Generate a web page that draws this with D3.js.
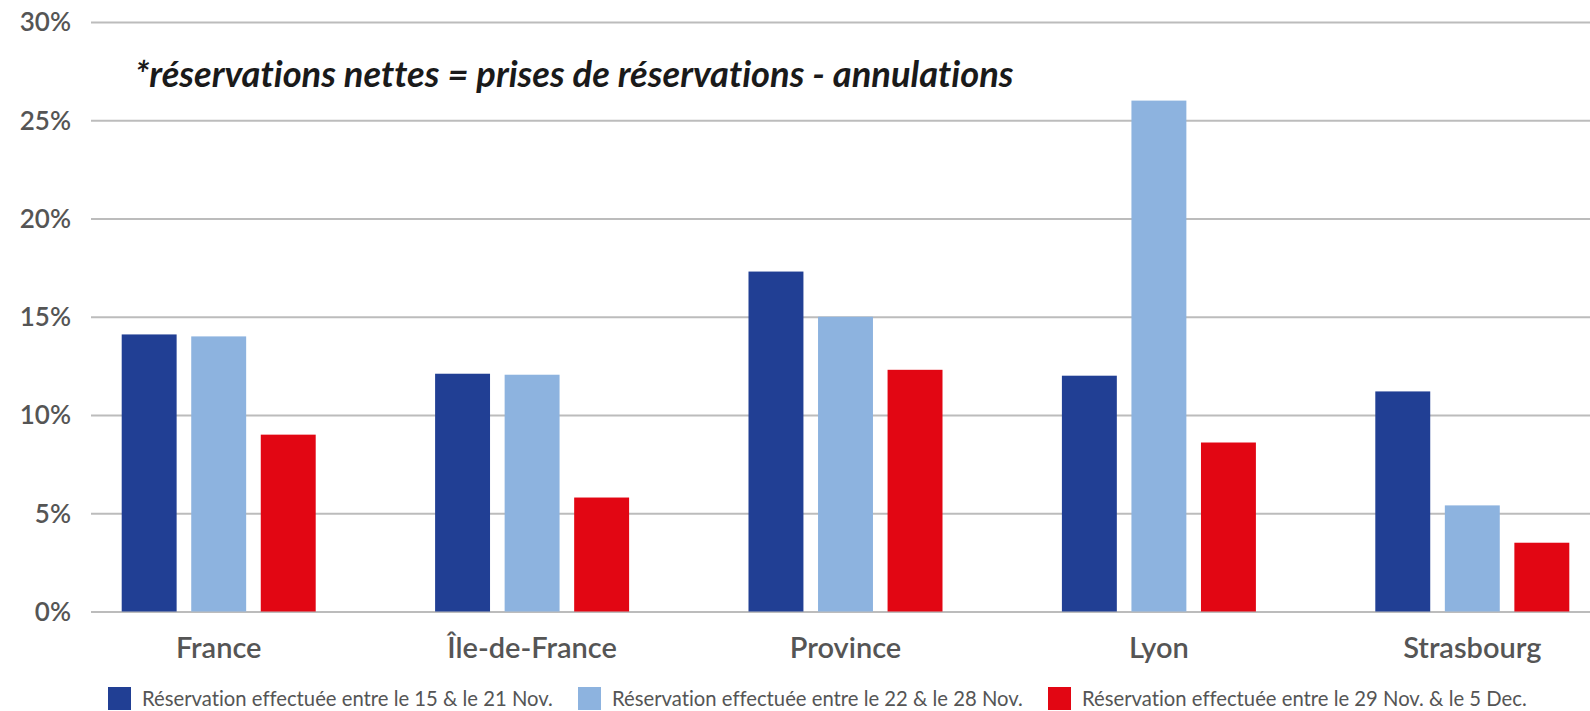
<!DOCTYPE html>
<html>
<head>
<meta charset="utf-8">
<script src="https://cdn.jsdelivr.net/npm/d3@7"></script>
<style>
  body { margin: 0; background: #fff; }
  svg { display: block; }
  text { font-variant-ligatures: none; }
</style>
</head>
<body>
<svg id="chart"></svg>
<script>
// data
const categories = ['France', 'Île-de-France', 'Province', 'Lyon', 'Strasbourg'];
const seriesNames = [
    'Réservation effectuée entre le 15 & le 21 Nov.',
    'Réservation effectuée entre le 22 & le 28 Nov.',
    'Réservation effectuée entre le 29 Nov. & le 5 Dec.'
];
const week1 = [14.1, 12.1, 17.3, 12.0, 11.2];
const week2 = [14.0, 12.05, 15.0, 26.0, 5.4];
const week3 = [9.0, 5.8, 12.3, 8.6, 3.5];
const yTicks = [0, 5, 10, 15, 20, 25, 30];
const colours = ['#213f94', '#8db3df', '#e20613'];
const note = '*réservations nettes = prises de réservations - annulations';

const width = 1590, height = 711;
const svg = d3.select('#chart').attr('width', width).attr('height', height);

const series = [week1, week2, week3];

const yScale = d3.scaleLinear().domain([0, 30]).range([611.5, 22]);
const x0 = d3.scaleBand().domain(categories).range([62, 1629]).padding(0);
const groupWidth = 194;
const x1 = d3.scaleBand().domain(d3.range(3)).range([0, groupWidth]).paddingInner(0.21);
const groupOffset = (x0.bandwidth() - groupWidth) / 2;

// gridlines
const grid = svg.append('g')
    .attr('transform', 'translate(91,0)')
    .call(d3.axisLeft(yScale).tickValues(yTicks).tickSize(-(width - 91)).tickFormat(''));
grid.select('.domain').remove();
grid.selectAll('line').attr('stroke', '#bcbcbc').attr('stroke-width', 2);

// y tick labels
svg.append('g')
    .selectAll('text')
    .data(yTicks)
    .enter()
    .append('text')
    .attr('x', 71)
    .attr('y', d => yScale(d))
    .attr('dy', '0.36em')
    .attr('text-anchor', 'end')
    .attr('fill', '#555')
    .style('font-family', 'Lato, sans-serif')
    .style('font-weight', 600)
    .style('font-size', '26px')
    .text(d => d + '%');

// bars
const groups = svg.append('g')
    .selectAll('g')
    .data(categories)
    .enter()
    .append('g')
    .attr('transform', d => 'translate(' + (x0(d) + groupOffset) + ',0)');

groups.selectAll('rect')
    .data((d, i) => series.map((s, k) => ({ k: k, v: s[i] })))
    .enter()
    .append('rect')
    .attr('x', d => x1(d.k))
    .attr('width', x1.bandwidth())
    .attr('y', d => yScale(d.v))
    .attr('height', d => yScale(0) - yScale(d.v))
    .attr('fill', d => colours[d.k]);

// category labels
svg.append('g')
    .selectAll('text')
    .data(categories)
    .enter()
    .append('text')
    .attr('x', d => x0(d) + x0.bandwidth() / 2)
    .attr('y', 658)
    .attr('text-anchor', 'middle')
    .attr('fill', '#555')
    .style('font-family', 'Lato, sans-serif')
    .style('font-weight', 600)
    .style('font-size', '29px')
    .text(d => d);

// note
const noteText = svg.append('text')
    .attr('x', 135)
    .attr('y', 87)
    .attr('fill', '#1a1a1a')
    .style('font-family', 'Lato, sans-serif')
    .style('font-weight', 700)
    .style('font-style', 'italic')
    .style('font-size', '30px')
    .text(note);
// fit the note to its width in the picture
const noteLen = noteText.node().getComputedTextLength();
noteText.style('font-size', (30 * 879 / noteLen) + 'px');

// legend
const legendX = [108, 578, 1048];
const legend = svg.append('g')
    .selectAll('g')
    .data(seriesNames)
    .enter()
    .append('g')
    .attr('transform', (d, i) => 'translate(' + legendX[i] + ',687)');

legend.append('rect')
    .attr('width', 23)
    .attr('height', 23)
    .attr('fill', (d, i) => colours[i]);

const legendText = legend.append('text')
    .attr('x', 34)
    .attr('y', 19)
    .attr('fill', '#555')
    .style('font-family', 'Lato, sans-serif')
    .style('font-size', '20px')
    .text(d => d);
// same size for all three, taken from the first one
const firstLen = legendText.node().getComputedTextLength();
legendText.style('font-size', (20 * 411 / firstLen) + 'px');
</script>
</body>
</html>
